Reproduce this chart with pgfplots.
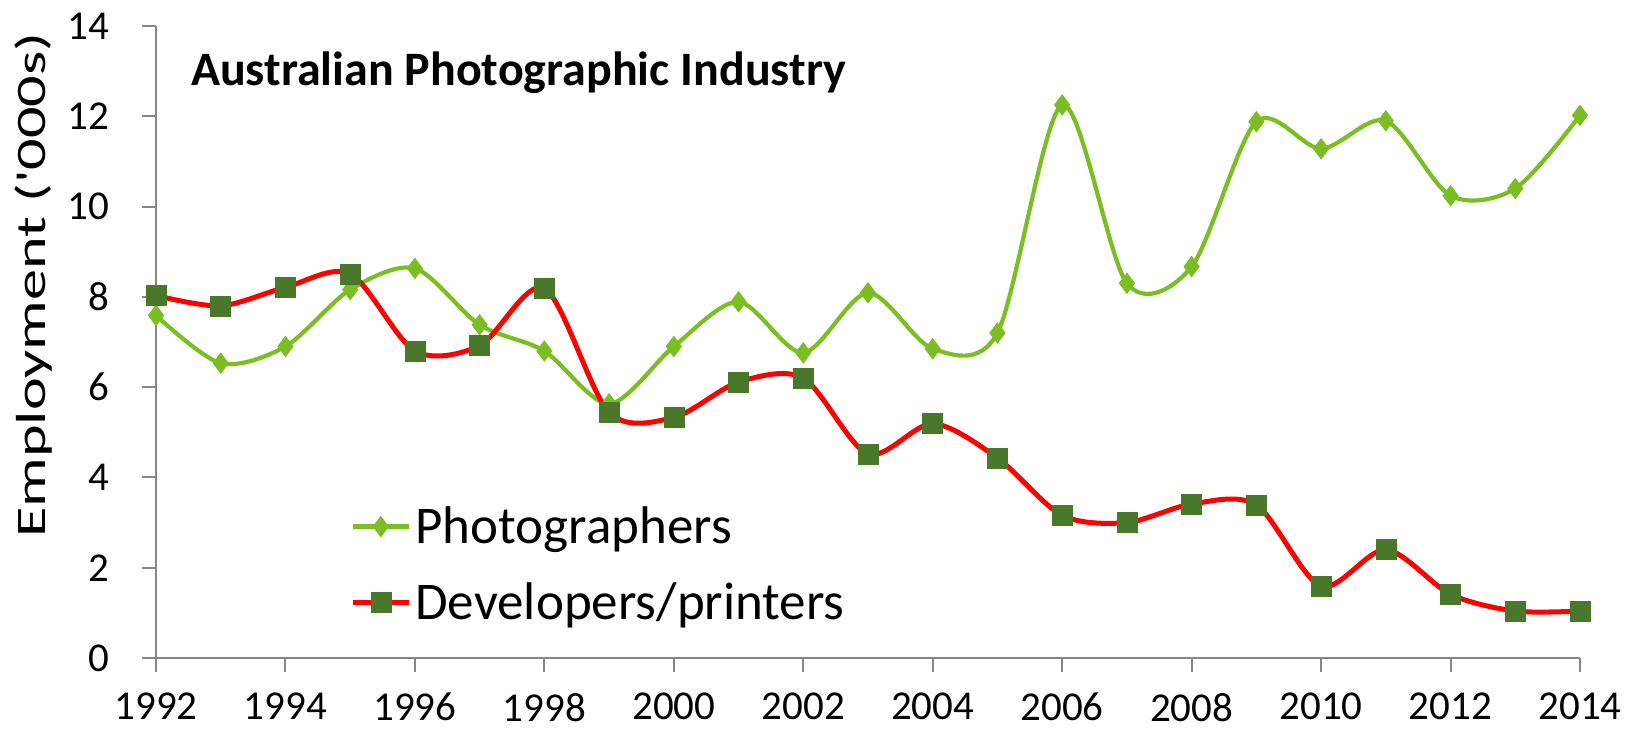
\documentclass[border=0pt]{standalone}
\usepackage{pgfplots}
\pgfplotsset{compat=1.18}
\usepackage{fontspec}
\setmainfont{Carlito}
\usepackage{graphicx}

\definecolor{photogreen}{RGB}{122,190,34}
\definecolor{devred}{RGB}{255,0,0}
\definecolor{sqgreen}{RGB}{74,120,42}
\definecolor{axisgray}{RGB}{134,134,134}

\begin{document}
\begin{tikzpicture}
\useasboundingbox (-78pt,-37pt) rectangle (738.5pt,329pt);
\begin{axis}[
    at={(0pt,0pt)}, anchor=south west,
    scale only axis,
    width=712pt, height=316pt,
    xmin=1992, xmax=2014,
    ymin=0, ymax=14,
    xtick={1992,1994,...,2014},
    ytick={0,2,...,14},
    axis x line*=bottom,
    axis y line*=left,
    axis line style={axisgray, line width=1pt, -},
    every tick/.style={axisgray, line width=1pt},
    xtick align=outside, ytick align=outside,
    major tick length=7pt,
    xticklabel shift=7pt,
    yticklabel shift=13pt,
    /pgf/number format/assume math mode=true,
    /pgf/number format/1000 sep={},
    ticklabel style={font=\fontsize{20.5}{24}\selectfont, black},
    ylabel={\scalebox{1.48}[1]{Employment (\textquotesingle000s)}},
    ylabel style={font=\fontsize{21}{25}\selectfont, at={(axis description cs:-0.0861,0.59)}, anchor=center},
    legend style={at={(axis description cs:0.1362,0.148)}, anchor=west, draw=none, fill=none,
        font=\fontsize{26.5}{30}\selectfont, inner sep=0pt, row sep=14pt},
    legend cell align=left,
    legend image code/.code={
        \draw[mark repeat=2,mark phase=2] plot coordinates {(0pt,0pt) (14pt,0pt) (28pt,0pt)};
    },
]

\addplot[color=photogreen, line width=2.1pt, smooth, mark=diamond*,
    mark size=5pt, mark options={fill=photogreen, draw=photogreen, line width=0.5pt}]
    coordinates {
    (1992,7.59)(1993,6.53)(1994,6.90)(1995,8.16)(1996,8.63)(1997,7.38)
    (1998,6.80)(1999,5.63)(2000,6.90)(2001,7.89)(2002,6.76)(2003,8.09)
    (2004,6.85)(2005,7.20)(2006,12.25)(2007,8.30)(2008,8.67)(2009,11.88)
    (2010,11.28)(2011,11.90)(2012,10.24)(2013,10.40)(2014,12.02)
    };
\addlegendentry{Photographers}

\addplot[color=devred, line width=2.5pt, smooth, mark=square*,
    mark size=5pt, mark options={fill=sqgreen, draw=sqgreen, line width=0.3pt}]
    coordinates {
    (1992,8.03)(1993,7.80)(1994,8.21)(1995,8.51)(1996,6.80)(1997,6.92)
    (1998,8.19)(1999,5.44)(2000,5.33)(2001,6.11)(2002,6.20)(2003,4.52)
    (2004,5.19)(2005,4.43)(2006,3.16)(2007,3.00)(2008,3.41)(2009,3.39)
    (2010,1.59)(2011,2.40)(2012,1.41)(2013,1.04)(2014,1.04)
    };
\addlegendentry{Developers/printers}

\node[anchor=west, font=\fontsize{24}{28}\selectfont\bfseries, inner sep=0pt]
    at (axis description cs:0.0243,0.9256) {Australian Photographic Industry};
\end{axis}
\end{tikzpicture}
\end{document}
